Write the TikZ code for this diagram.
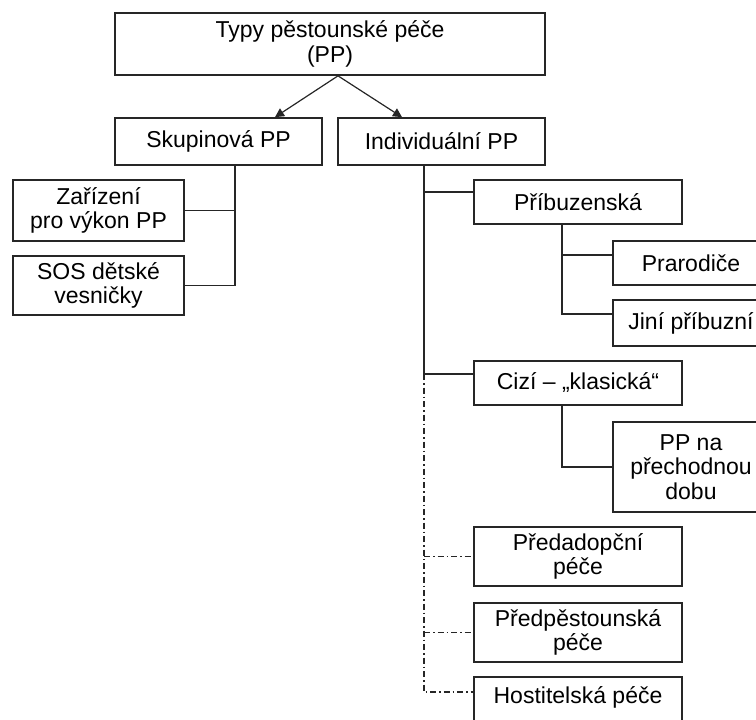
\documentclass[tikz,border=0pt]{standalone}
\usepackage{fontspec}
\setmainfont{Liberation Sans}
\usetikzlibrary{arrows.meta,calc}
\begin{document}
\begin{tikzpicture}[x=1pt,y=-1pt,
 box/.style={draw=black!85, line width=1.7pt, fill=white, align=center, inner sep=0pt, font=\fontsize{23}{24.5}\selectfont},
 conn/.style={draw=black!85, line width=1.5pt},
 dd/.style={conn, dash pattern=on 6pt off 3pt on 1.5pt off 3pt},
 arr/.style={conn, line width=1.2pt, -{Triangle[length=9pt,width=9pt]}}]
\useasboundingbox (0,0) rectangle (756,720);
\clip (0,0) rectangle (756,720);

\node[box, minimum width=430pt, minimum height=62pt] (top) at (330,44) {Typy pěstounské péče\\(PP)};
\node[box, minimum width=207pt, minimum height=47pt] (skup) at (218.5,141.5) {Skupinová PP};
\node[box, minimum width=207pt, minimum height=47pt] (indiv) at (441.5,141.5) {Individuální PP};
\node[box, minimum width=171pt, minimum height=61pt] (zariz) at (98.5,210.5) {Zařízení\\pro výkon PP};
\node[box, minimum width=171pt, minimum height=59pt] (sos) at (98.5,285.5) {SOS dětské\\vesničky};
\node[box, minimum width=208pt, minimum height=44pt] (pribuz) at (578,202) {Příbuzenská};
\node[box, minimum width=156pt, minimum height=44pt] (prarod) at (691,263) {Prarodiče};
\node[box, minimum width=156pt, minimum height=46pt] (jini) at (691,323) {Jiní příbuzní};
\node[box, minimum width=208pt, minimum height=44pt] (cizi) at (578,383) {Cizí – „klasická“};
\node[box, minimum width=156pt, minimum height=90pt] (ppna) at (691,467) {PP na\\přechodnou\\dobu};
\node[box, minimum width=208pt, minimum height=59pt] (predad) at (578,556.5) {Předadopční\\péče};
\node[box, minimum width=208pt, minimum height=59pt] (predpest) at (578,632.5) {Předpěstounská\\péče};
\node[box, minimum width=208pt, minimum height=60pt] (host) at (578,707) {Hostitelská péče\\\mbox{}};

% arrows from the top box
\coordinate (apex) at ($(top.south)+(8,0)$);
\coordinate (skupin) at ($(skup.north)+(56.5,0)$);
\coordinate (indivin) at ($(indiv.north)+(-39.5,0)$);
\draw[arr] (apex) -- (skupin);
\draw[arr] (apex) -- (indivin);

% Skupinova branch
\coordinate (sA) at ($(skup.south)+(16.5,0)$);
\coordinate (sB) at (sA |- sos.east);
\draw[conn] (sA) -- (sB) -- (sos.east);
\draw[conn] (zariz.east) -- (sA |- zariz.east);

% Individualni branch
\coordinate (iA) at ($(indiv.south)+(-17.5,0)$);
\coordinate (pribIn) at ($(pribuz.north west)+(0,13)$);
\coordinate (ciziIn) at ($(cizi.north west)+(0,14)$);
\coordinate (iB) at (iA |- ciziIn);
\draw[conn] (iA) -- (iB);
\draw[conn] (iA |- pribIn) -- (pribIn);
\draw[conn] (iB) -- (ciziIn);

% Pribuzenska sub-branch
\coordinate (pA) at ($(pribuz.south)+(-16,0)$);
\coordinate (prarodIn) at ($(prarod.north west)+(0,15)$);
\coordinate (jiniIn) at ($(jini.north west)+(0,15)$);
\draw[conn] (pA) -- (pA |- jiniIn) -- (jiniIn);
\draw[conn] (pA |- prarodIn) -- (prarodIn);

% Cizi sub-branch
\coordinate (cA) at ($(cizi.south)+(-16,0)$);
\draw[conn] (cA) -- (cA |- ppna.west) -- (ppna.west);

% dash-dot branch
\coordinate (hostIn) at ($(host.north west)+(0,16)$);
\draw[dd] (iB) -- (iB |- hostIn) -- (hostIn);
\draw[dd] (iB |- predad.west) -- (predad.west);
\draw[dd] (iB |- predpest.west) -- (predpest.west);
\end{tikzpicture}
\end{document}
